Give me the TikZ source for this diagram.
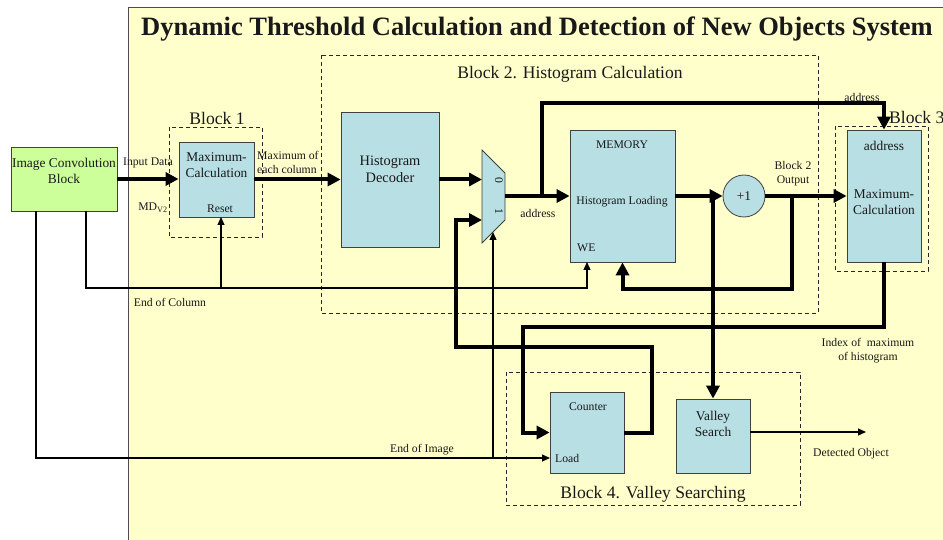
\documentclass[tikz,border=0pt]{standalone}
\usepackage{fontspec}
\setmainfont{Liberation Serif}
\usetikzlibrary{arrows.meta}
\definecolor{bgY}{RGB}{255,255,204}
\definecolor{boxB}{RGB}{183,223,228}
\definecolor{boxG}{RGB}{204,255,153}
\newcommand\szS{\fontsize{11.7}{14}\selectfont}
\newcommand\szM{\fontsize{13.4}{16}\selectfont}
\newcommand\szH{\fontsize{14.4}{17}\selectfont}
\newcommand\szL{\fontsize{17.6}{20}\selectfont}
\newcommand\szT{\fontsize{26.5}{30}\selectfont\bfseries}
\begin{document}
\begin{tikzpicture}[x=1pt,y=-1pt,
  blk/.style={draw=black!75, line width=0.8pt, fill=boxB, inner sep=0pt},
  txt/.style={inner sep=0pt, align=center, text=black!90},
  grp/.style={draw=black!85, dash pattern=on 4pt off 3pt, line width=0.9pt},
  th/.style={line width=4pt, -{Triangle[length=13pt,width=13pt]}},
  thn/.style={line width=4pt},
  tn/.style={line width=1.2pt, -{Triangle[length=8pt,width=7pt]}}]
\useasboundingbox (0,0) rectangle (943,540);
\clip (0,0) rectangle (943,540);
% panel
\fill[bgY] (128,7) rectangle (960,560);
\draw[black!70, line width=0.8pt] (128,560) -- (128,7) -- (960,7);
\node[txt, font=\szT] (title) at (537,29) {Dynamic Threshold Calculation and Detection of New Objects System};
% group boxes
\draw[grp] (169,127) rectangle (262,237);
\draw[grp] (321,55) rectangle (818,313);
\draw[grp] (835,126) rectangle (928,271);
\draw[grp] (506,372) rectangle (800,505);
% blocks
\node[blk, fill=boxG, minimum width=106pt, minimum height=64pt] (ic) at (64,179) {};
\node[blk, minimum width=75pt, minimum height=75pt] (mc1) at (216.5,179.5) {};
\node[blk, minimum width=98pt, minimum height=135pt] (hd) at (390,179.5) {};
\node[blk, minimum width=105pt, minimum height=132pt] (mem) at (622.5,196) {};
\node[blk, minimum width=74pt, minimum height=132pt] (mc3) at (884,196) {};
\node[blk, minimum width=74pt, minimum height=81pt] (cnt) at (587,432.5) {};
\node[blk, minimum width=74pt, minimum height=74pt] (vs) at (713,436) {};
\node[blk, circle, minimum size=42pt] (plus) at (744,196) {};
\draw[blk] (482,150) -- (505,173) -- (505,220) -- (482,243) -- cycle;
% named ports / corners
\coordinate (mux0) at (482,179.5);
\coordinate (mux1) at (482,220);
\coordinate (muxout) at (505,196);
\coordinate (muxsel) at (493,232);
\coordinate (j1) at (542,196);
\coordinate (tA) at (542,103);
\coordinate (j2) at (792,196);
\coordinate (lp) at (622.5,289);
\coordinate (j3) at (713,196);
\coordinate (c1) at (523,327);
\coordinate (c2) at (652,347);
\coordinate (c3) at (456,220);
\coordinate (eocS) at (86,211);
\coordinate (eocR) at (587,288);
\coordinate (we) at (587,262);
\coordinate (eocJ) at (221,288);
\coordinate (rst) at (221,217);
\coordinate (eoiS) at (36,211);
\coordinate (ld) at (550,458);
\coordinate (eoiJ) at (493,458);
\coordinate (vsO) at (750,432);
\coordinate (det) at (866,432);
% thick connectors
\draw[th] (ic.east) -- (mc1.west |- ic.east);
\draw[th] (mc1.east) -- (hd.west);
\draw[th] (hd.east) -- (mux0);
\draw[th] (muxout) -- (mem.west);
\draw[th] (j1) -- (tA) -| (mc3.north);
\draw[th] (mem.east) -- (plus.west);
\draw[th] (plus.east) -- (mc3.west);
\draw[th] (j2) |- (lp) -- (mem.south);
\draw[th] (j3) -- (vs.north);
\draw[th] (mc3.south) |- (c1) |- (cnt.west);
\draw[th] (cnt.east) -| (c2) -| (c3) -- (mux1);
% thin connectors
\draw[tn] (eocS) |- (eocR) -- (we);
\draw[tn] (eocJ) -- (rst);
\draw[tn] (eoiS) |- (ld);
\draw[tn] (eoiJ) -- (muxsel);
\draw[tn] (vsO) -- (det);
% texts
\node[txt, font=\szM] at (64,171) {Image Convolution\\Block};
\node[txt, font=\szM] at (216.5,165) {Maximum-\\Calculation};
\node[txt, font=\szS] at (220,209) {Reset};
\node[txt, font=\szL] at (217,118) {Block 1};
\node[txt, font=\szS] at (148,163) {Input Data};
\node[txt, font=\szS] at (153,208) {MD\textsubscript{V2}};
\node[txt, font=\szS, anchor=west, align=left] at (257,162) {Maximum of\\each column};
\node[txt, font=\szS] at (170,302) {End of Column};
\node[txt, font=\szL] at (570,74) {Block 2. Histogram Calculation};
\node[txt, font=\szH] at (390,169.5) {Histogram\\Decoder};
\node[txt, font=\szS, rotate=-90] at (499,180) {0};
\node[txt, font=\szS, rotate=-90] at (499,211) {1};
\node[txt, font=\szS] at (538,213) {address};
\node[txt, font=\szS] at (622,145) {MEMORY};
\node[txt, font=\szS] at (622,202) {Histogram Loading};
\node[txt, font=\szS, anchor=west] at (577,248) {WE};
\node[txt, font=\szM] at (744,196) {+1};
\node[txt, font=\szS] at (793,174) {Block 2\\Output};
\node[txt, font=\szS] at (862,97) {address};
\node[txt, font=\szL, anchor=west] at (889,117) {Block 3};
\node[txt, font=\szM] at (884,146) {address};
\node[txt, font=\szM] at (884,202) {Maximum-\\Calculation};
\node[txt, font=\szS] at (868,351) {Index of\ \ maximum\\of histogram};
\node[txt, font=\szS] at (588,407) {Counter};
\node[txt, font=\szS, anchor=west] at (555,458) {Load};
\node[txt, font=\szM] at (713,424) {Valley\\Search};
\node[txt, font=\szS] at (851,454) {Detected Object};
\node[txt, font=\szS] at (422,450) {End of Image};
\node[txt, font=\szL] at (653,494) {Block 4. Valley Searching};
\end{tikzpicture}
\end{document}
